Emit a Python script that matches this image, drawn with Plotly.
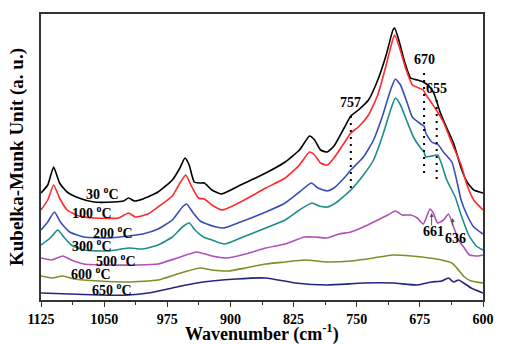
import plotly.graph_objects as go

# ---- data (wavenumber cm-1, Kubelka-Munk a.u.) ----
w_30 = [1125,1117,1110,1103,1094,1080,1062,1039,1027,1021,1014,1004,986,969,960,954,949,943,936,931,922,911,888,858,835,818,806,800,793,785,777,765,757,748,736,725,715,707,705,700,693,686,678,671,664,658,651,643,635,626,619,611,600]
y_30 = [107,115,133,117,108,102,98,98,99,102,99,101,108,120,132,142,135,118,117,117,110,106,115,127,138,150,164,160,150,148,154,172,184,190,200,220,245,270,272,260,238,222,220,218,214,206,188,172,157,132,118,110,107]

w_100 = [1125,1117,1110,1103,1094,1080,1062,1033,1021,1013,998,986,969,960,953,947,938,931,922,910,888,858,835,818,806,800,793,785,777,765,757,748,736,725,715,708,705,699,692,684,676,671,669,661,654,647,637,626,619,611,600]
y_100 = [90,100,115,102,90,84,82,82,87,83,86,93,104,117,125,115,102,101,95,90,98,112,122,135,148,145,137,135,142,157,167,173,185,205,235,258,265,252,232,215,212,210,207,197,188,178,157,135,115,100,90]

w_200 = [1125,1117,1109,1102,1091,1074,1045,1021,1004,986,969,957,952,945,936,928,917,908,888,858,835,818,804,796,785,777,765,757,742,730,719,709,704,698,690,684,674,670,668,661,653,647,637,630,626,619,611,600]
y_200 = [70,78,88,78,68,63,62,64,66,71,80,93,96,88,79,76,73,72,78,88,97,108,117,112,109,112,122,130,143,160,185,212,221,215,197,183,176,174,167,158,155,148,138,115,100,85,73,66]

w_300 = [1125,1114,1105,1098,1089,1074,1045,1021,1004,986,969,957,949,942,932,922,907,888,858,835,818,803,795,785,775,757,742,730,719,709,704,698,690,682,674,670,668,661,654,650,643,633,626,617,608,600]
y_300 = [55,62,70,63,55,50,49,52,51,55,63,73,77,70,63,60,56,62,72,80,90,97,94,93,97,110,125,140,165,192,202,195,178,162,152,148,143,144,145,138,120,103,85,65,54,50]

w_500 = [1125,1112,1099,1089,1074,1045,1010,986,963,940,922,905,882,858,835,812,800,785,771,757,742,725,713,704,696,686,678,671,663,659,654,647,641,635,629,623,616,606,600]
y_500 = [42,40,44,40,36,35,35,36,42,48,44,42,46,52,56,63,63,62,66,68,73,80,85,89,85,85,82,76,91,87,77,80,86,73,60,53,45,44,45]

w_600 = [1125,1112,1099,1085,1056,1021,986,963,936,922,903,882,858,835,812,785,757,730,707,685,664,649,637,629,622,614,600]
y_600 = [24,22,24,21,19,18,20,26,32,30,29,32,36,38,40,38,39,42,45,44,42,40,37,30,23,19,17]

w_650 = [1125,1091,1056,1021,998,969,940,893,858,823,785,742,707,678,661,649,641,635,629,623,614,600]
y_650 = [7,6,5,5,7,12,17,21,22,17,15,17,17,15,18,19,22,18,20,17,12,7]

series_names = ["30", "100", "200", "300", "500", "600", "650"]
series_w = [w_30, w_100, w_200, w_300, w_500, w_600, w_650]
series_y = [y_30, y_100, y_200, y_300, y_500, y_600, y_650]
series_colors = ["#000000", "#FF2A2A", "#3A4DB8", "#1E8C8C", "#B050B8", "#808C2A", "#262680"]

# curve labels: (wavenumber, y) positions
label_w = [1052, 1064, 1039, 1064, 1036, 1066, 1041]
label_y = [107, 88, 68, 55, 40, 27, 11]

tick_vals = [1125, 1050, 975, 900, 825, 750, 675, 600]
tick_text = ["1125", "1050", "975", "900", "825", "750", "675", "600"]

# dotted peak markers
peak_w = [757, 670, 655]
peak_top = [188, 232, 205]
peak_bot = [112, 127, 121]
peak_lbl_y = [198, 241, 212]

# arrowed peaks on the 500 C curve
arr_w = [661, 636]
arr_tip = [87, 82]
arr_tail = [73, 73]
arr_lbl_w = [659, 633]
arr_lbl_y = [69, 62]

FONT = "Liberation Serif"

fig = go.Figure()
for name, w, y, c in zip(series_names, series_w, series_y, series_colors):
    fig.add_trace(go.Scatter(x=w, y=y, mode="lines", name=name + " °C",
                             line=dict(color=c, width=1.6, shape="spline", smoothing=0.5),
                             showlegend=False))

for name, lw, ly in zip(series_names, label_w, label_y):
    fig.add_annotation(x=lw, y=ly, text="<b>" + name + " <sup>o</sup>C</b>", showarrow=False,
                       font=dict(family=FONT, size=14, color="black"))

for pw, pt, pb, pl in zip(peak_w, peak_top, peak_bot, peak_lbl_y):
    fig.add_trace(go.Scatter(x=[pw, pw], y=[pb, pt], mode="lines",
                             line=dict(color="black", width=2, dash="2px,5px"),
                             showlegend=False, hoverinfo="skip"))
    fig.add_annotation(x=pw, y=pl, text="<b>%d</b>" % pw, showarrow=False,
                       font=dict(family=FONT, size=14, color="black"))

for aw, tip, tail, lw, ly in zip(arr_w, arr_tip, arr_tail, arr_lbl_w, arr_lbl_y):
    fig.add_annotation(x=aw, y=tip, ax=aw, ay=tail, xref="x", yref="y", axref="x", ayref="y",
                       text="", showarrow=True, arrowhead=2, arrowsize=0.8, arrowwidth=1,
                       arrowcolor="#555555")
    fig.add_annotation(x=lw, y=ly, text="<b>%d</b>" % aw, showarrow=False,
                       font=dict(family=FONT, size=14, color="black"))

fig.add_annotation(xref="paper", yref="paper", x=0, y=0.5, xshift=-24, textangle=-90,
                   xanchor="center", yanchor="middle",
                   text="<b>Kubelka-Munk Unit (a. u.)</b>", showarrow=False,
                   font=dict(family=FONT, size=19, color="black"))
fig.add_annotation(xref="paper", yref="paper", x=0.5, y=0, yshift=-33,
                   xanchor="center", yanchor="middle",
                   text="<b>Wavenumber (cm<sup>-1</sup>)</b>", showarrow=False,
                   font=dict(family=FONT, size=18, color="black"))

fig.update_layout(
    width=506, height=344,
    margin=dict(l=41, r=14, t=14, b=44),
    paper_bgcolor="white", plot_bgcolor="white",
    font=dict(family=FONT, color="black"),
    xaxis=dict(range=[1125, 600], tickvals=tick_vals, ticktext=["<b>%s</b>" % t for t in tick_text],
               ticks="outside", ticklen=5, tickwidth=1, tickcolor="#333",
               minor=dict(ticks="outside", ticklen=3, tickcolor="#333", dtick=37.5, tick0=600),
               showline=True, linecolor="#333", linewidth=1.5, mirror=True,
               showgrid=False, zeroline=False,
               tickfont=dict(family=FONT, size=14, color="black")),
    yaxis=dict(range=[0, 286], showticklabels=False, ticks="",
               showline=True, linecolor="#333", linewidth=1.5, mirror=True,
               showgrid=False, zeroline=False),
)

fig.write_html("out.html")
